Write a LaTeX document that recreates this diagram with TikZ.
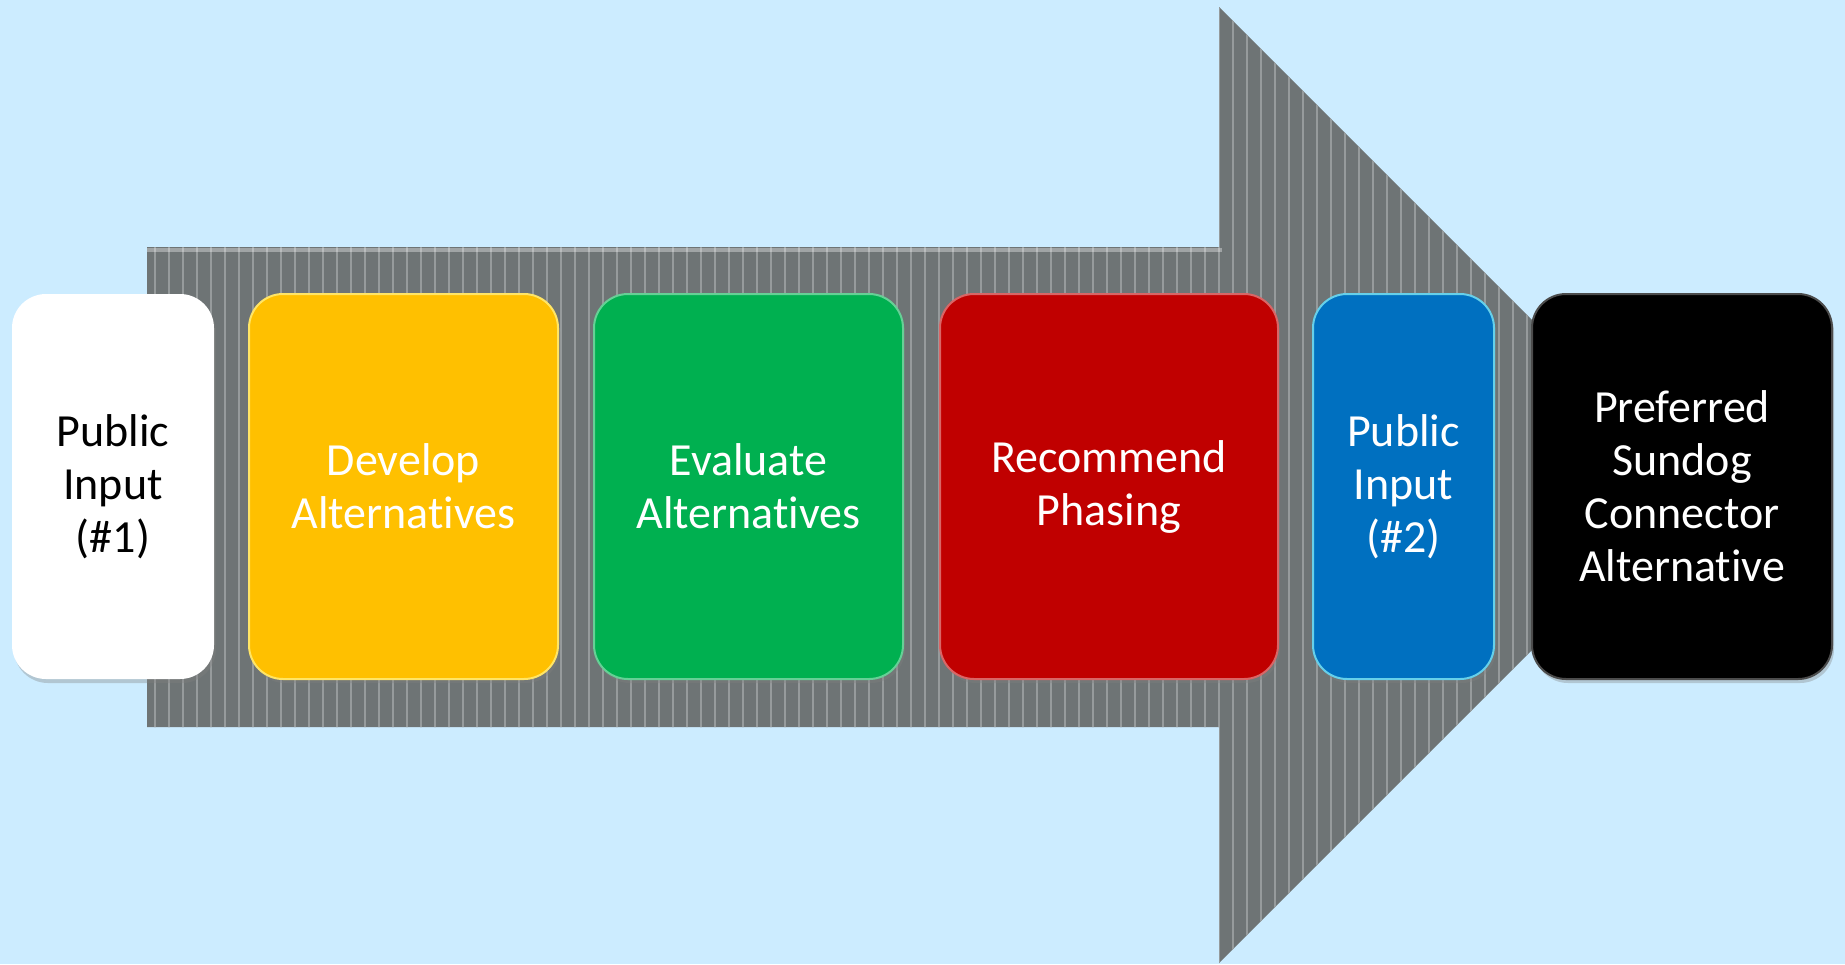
\documentclass[tikz,border=0pt]{standalone}
\usepackage{fontspec}
\setmainfont[Ligatures=NoCommon]{Carlito}
\usetikzlibrary{shadows}
\definecolor{bg}{HTML}{CCECFF}
\definecolor{arrowgray}{HTML}{6E7475}
\definecolor{stripegray}{HTML}{969B9C}
\definecolor{cyellow}{HTML}{FFC000}
\definecolor{cgreen}{HTML}{00B050}
\definecolor{cred}{HTML}{C00000}
\definecolor{cblue}{HTML}{0070C0}
\begin{document}
\begin{tikzpicture}[x=0.5pt,y=-0.5pt,
  box/.style={rounded corners=17pt, minimum height=192.5pt, inner sep=0pt,
    align=center, font=\fontsize{23}{26.5}\selectfont,
    drop shadow={opacity=0.35, shadow xshift=1pt, shadow yshift=-2pt}},
  stripe/.style={draw=stripegray, line width=1.1pt}]
\fill[bg] (0,0) rectangle (1845,964);
\useasboundingbox (0,0) rectangle (1845,964);
% big arrow
\fill[arrowgray] (147,247) -- (1219,247) -- (1219,7) -- (1697,485) -- (1219,963) -- (1219,727) -- (147,727) -- cycle;
\begin{scope}
  \clip (147,247) -- (1219,247) -- (1219,7) -- (1697,485) -- (1219,963) -- (1219,727) -- (147,727) -- cycle;
  \foreach \x in {155,169,...,1700} \draw[stripe] (\x,0) -- (\x,964);
  \draw[draw=white, opacity=0.35, line width=2pt] (147,250) -- (1222,250);
\end{scope}
% boxes
\node[box, fill=white, text=black, minimum width=101pt] (n1) at (113,486.5) {Public\\Input\\(\#1)};
\node[box, fill=cyellow, draw=cyellow!70!yellow!60!white, line width=1pt, text=white, minimum width=154.5pt] (n2) at (403.5,486.5) {Develop\\Alternatives};
\node[box, fill=cgreen, draw=cgreen!60!white, line width=1pt, text=white, minimum width=154.5pt] (n3) at (748.5,486.5) {Evaluate\\Alternatives};
\node[box, fill=cred, draw=cred!60!white, line width=1pt, text=white, minimum width=169pt] (n4) at (1109,486.5) {Recommend\\Phasing};
\node[box, fill=cblue, draw=cblue!55!cyan!60!white, line width=1pt, text=white, minimum width=90.5pt] (n5) at (1403.5,486.5) {Public\\Input\\(\#2)};
\node[box, fill=black, draw=black!70!white, line width=1pt, text=white, minimum width=150pt] (n6) at (1682,486.5) {Preferred\\Sundog\\Connector\\Alternative};
\end{tikzpicture}
\end{document}
